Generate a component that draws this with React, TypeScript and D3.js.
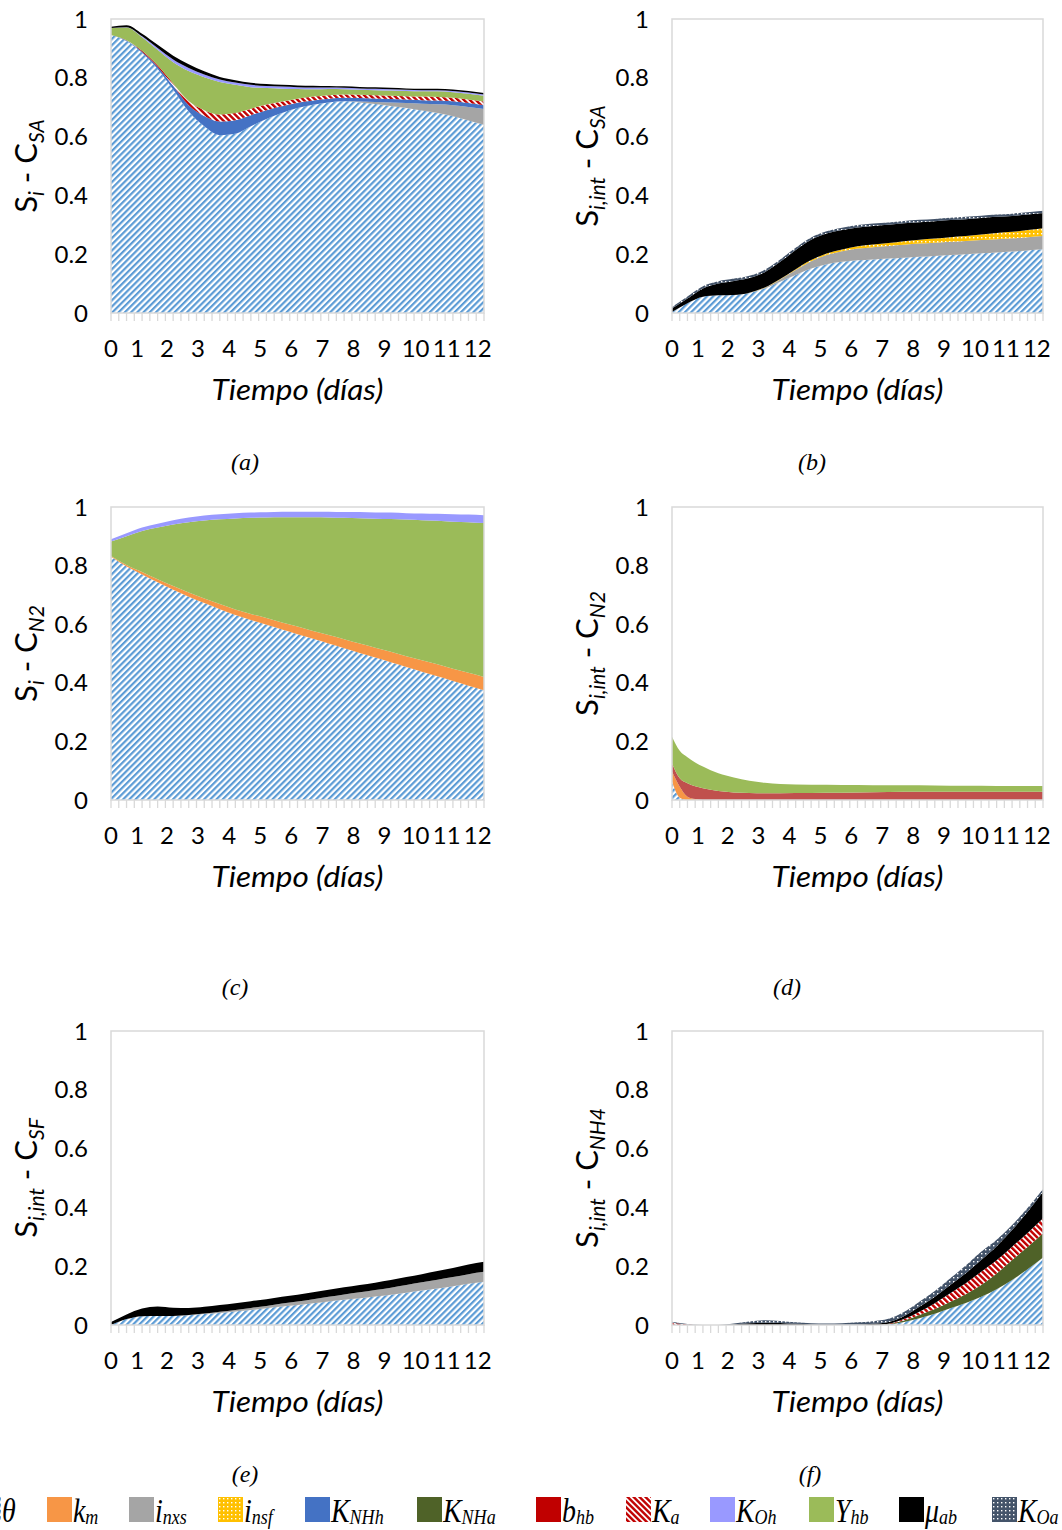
import React from 'react';
import * as d3 from 'd3';

// ---------- data ----------
const DAYS = [0, 0.5, 1, 1.5, 2, 2.5, 3, 3.5, 4, 4.5, 5, 5.5, 6, 6.5, 7, 7.5, 8, 8.5, 9, 9.5, 10, 10.5, 11, 11.5, 12];
const DAYS_D = [0, 0.25, 0.5, 0.75, 1, 1.5, 2, 2.5, 3, 4, 5, 6, 7, 8, 9, 10, 11, 12];

const X_TICK_LABELS = ['0', '1', '2', '3', '4', '5', '6', '7', '8', '9', '10', '11', '12'];
const X_TICK_POS = [0, 0.84, 1.8, 2.8, 3.8, 4.8, 5.8, 6.8, 7.8, 8.8, 9.8, 10.8, 11.8];
const Y_TICKS = [0, 0.2, 0.4, 0.6, 0.8, 1];

// panel (a) S_i - C_SA
const thetaA = [0.946, 0.925, 0.885, 0.83, 0.76, 0.685, 0.635, 0.605, 0.61, 0.635, 0.66, 0.68, 0.697, 0.708, 0.716, 0.72, 0.716, 0.711, 0.704, 0.697, 0.689, 0.68, 0.669, 0.655, 0.64];
const inxsA = [0, 0, 0, 0, 0, 0, 0, 0, 0, 0, 0, 0, 0, 0, 0, 0, 0.003, 0.007, 0.012, 0.017, 0.023, 0.03, 0.038, 0.046, 0.054];
const KNHhA = [0, 0.002, 0.004, 0.008, 0.013, 0.022, 0.035, 0.046, 0.046, 0.038, 0.03, 0.023, 0.018, 0.015, 0.013, 0.012, 0.012, 0.012, 0.012, 0.012, 0.012, 0.013, 0.013, 0.013, 0.013];
const KaA = [0, 0.001, 0.003, 0.005, 0.008, 0.014, 0.02, 0.024, 0.024, 0.022, 0.019, 0.016, 0.014, 0.013, 0.012, 0.011, 0.011, 0.011, 0.011, 0.011, 0.012, 0.012, 0.012, 0.012, 0.012];
const YhbA = [0.023, 0.043, 0.046, 0.052, 0.072, 0.102, 0.112, 0.111, 0.096, 0.073, 0.056, 0.044, 0.033, 0.025, 0.021, 0.018, 0.017, 0.017, 0.018, 0.018, 0.018, 0.019, 0.019, 0.02, 0.02];
const KOhA = [0, 0.001, 0.003, 0.006, 0.009, 0.01, 0.009, 0.008, 0.008, 0.008, 0.007, 0.007, 0.006, 0.006, 0.005, 0.005, 0.005, 0.005, 0.004, 0.004, 0.004, 0.004, 0.004, 0.004, 0.004];
const muA = [0.005, 0.007, 0.009, 0.011, 0.013, 0.013, 0.011, 0.009, 0.008, 0.007, 0.007, 0.006, 0.006, 0.006, 0.005, 0.005, 0.005, 0.005, 0.005, 0.005, 0.005, 0.005, 0.005, 0.005, 0.005];

// panel (b) S_i,int - C_SA
const thetaB = [0.003, 0.033, 0.055, 0.06, 0.061, 0.068, 0.083, 0.106, 0.129, 0.151, 0.166, 0.174, 0.179, 0.182, 0.185, 0.188, 0.191, 0.194, 0.197, 0.2, 0.203, 0.206, 0.209, 0.213, 0.217];
const inxsB = [0, 0, 0, 0, 0, 0.001, 0.003, 0.008, 0.017, 0.025, 0.031, 0.036, 0.04, 0.042, 0.043, 0.044, 0.045, 0.045, 0.045, 0.045, 0.045, 0.045, 0.045, 0.045, 0.045];
const insfB = [0, 0, 0, 0, 0, 0, 0.001, 0.002, 0.003, 0.004, 0.005, 0.006, 0.008, 0.009, 0.01, 0.012, 0.013, 0.014, 0.016, 0.017, 0.019, 0.021, 0.022, 0.024, 0.026];
const muB = [0.012, 0.016, 0.028, 0.04, 0.048, 0.05, 0.052, 0.058, 0.065, 0.069, 0.068, 0.066, 0.064, 0.063, 0.062, 0.061, 0.06, 0.059, 0.058, 0.057, 0.056, 0.055, 0.054, 0.053, 0.052];
const KOaB = [0.005, 0.007, 0.008, 0.008, 0.008, 0.008, 0.008, 0.008, 0.008, 0.008, 0.008, 0.008, 0.008, 0.008, 0.008, 0.008, 0.008, 0.008, 0.008, 0.008, 0.008, 0.008, 0.008, 0.008, 0.008];

// panel (c) S_i - C_N2
const thetaC = [0.83, 0.797, 0.77, 0.743, 0.718, 0.694, 0.672, 0.651, 0.631, 0.614, 0.598, 0.582, 0.566, 0.55, 0.534, 0.518, 0.502, 0.486, 0.47, 0.454, 0.438, 0.422, 0.406, 0.39, 0.375];
const kmC = [0.003, 0.005, 0.008, 0.01, 0.012, 0.014, 0.016, 0.018, 0.019, 0.021, 0.023, 0.024, 0.026, 0.027, 0.029, 0.031, 0.032, 0.034, 0.036, 0.037, 0.039, 0.041, 0.042, 0.044, 0.045];
const YhbC = [0.049, 0.098, 0.14, 0.177, 0.21, 0.24, 0.266, 0.289, 0.311, 0.328, 0.343, 0.359, 0.373, 0.388, 0.401, 0.414, 0.428, 0.44, 0.453, 0.466, 0.478, 0.49, 0.502, 0.514, 0.525];
const KOhC = [0.008, 0.01, 0.012, 0.013, 0.015, 0.016, 0.017, 0.017, 0.018, 0.018, 0.018, 0.019, 0.019, 0.019, 0.02, 0.02, 0.021, 0.021, 0.022, 0.022, 0.023, 0.024, 0.025, 0.026, 0.027];

// panel (d) S_i,int - C_N2 (own time grid)
const thetaD = [0.063, 0.008, 0, 0, 0, 0, 0, 0, 0, 0, 0, 0, 0, 0, 0, 0, 0, 0];
const kmD = [0.034, 0.037, 0.011, 0.003, 0, 0, 0, 0, 0, 0, 0, 0, 0, 0, 0, 0, 0, 0];
const bhbD = [0.028, 0.029, 0.046, 0.044, 0.04, 0.031, 0.026, 0.024, 0.023, 0.024, 0.025, 0.026, 0.027, 0.028, 0.028, 0.028, 0.028, 0.028];
const YhbD = [0.091, 0.094, 0.089, 0.081, 0.074, 0.06, 0.051, 0.042, 0.036, 0.029, 0.027, 0.025, 0.023, 0.022, 0.021, 0.021, 0.02, 0.02];

// panel (e) S_i,int - C_SF
const thetaE = [0, 0.02, 0.03, 0.031, 0.031, 0.033, 0.037, 0.041, 0.046, 0.051, 0.057, 0.063, 0.068, 0.074, 0.08, 0.086, 0.091, 0.097, 0.103, 0.11, 0.117, 0.124, 0.132, 0.14, 0.147];
const inxsE = [0, 0, 0, 0, 0, 0.001, 0.002, 0.004, 0.005, 0.007, 0.008, 0.01, 0.012, 0.014, 0.016, 0.018, 0.02, 0.022, 0.024, 0.026, 0.028, 0.03, 0.031, 0.033, 0.034];
const muE = [0.01, 0.016, 0.026, 0.032, 0.028, 0.024, 0.023, 0.023, 0.023, 0.023, 0.023, 0.023, 0.023, 0.023, 0.024, 0.024, 0.025, 0.025, 0.026, 0.027, 0.028, 0.03, 0.031, 0.033, 0.034];

// panel (f) S_i,int - C_NH4
const thetaF = [0, 0, 0, 0, 0, 0, 0, 0, 0, 0, 0, 0, 0, 0, 0.002, 0.01, 0.023, 0.038, 0.057, 0.075, 0.096, 0.122, 0.153, 0.19, 0.23];
const KNHaF = [0, 0, 0, 0, 0, 0, 0, 0, 0, 0, 0, 0, 0, 0, 0.001, 0.005, 0.011, 0.016, 0.022, 0.03, 0.04, 0.053, 0.068, 0.075, 0.082];
const KaF = [0.008, 0.002, 0, 0, 0, 0, 0, 0, 0, 0, 0, 0, 0, 0, 0.001, 0.005, 0.011, 0.02, 0.029, 0.037, 0.045, 0.045, 0.045, 0.048, 0.051];
const muF = [0, 0, 0, 0, 0.002, 0.006, 0.008, 0.007, 0.004, 0.002, 0.001, 0.001, 0.002, 0.004, 0.006, 0.01, 0.017, 0.022, 0.028, 0.034, 0.04, 0.048, 0.057, 0.072, 0.09];
const KOaF = [0.003, 0.001, 0, 0, 0.003, 0.006, 0.008, 0.007, 0.005, 0.004, 0.004, 0.005, 0.007, 0.009, 0.011, 0.014, 0.017, 0.02, 0.023, 0.026, 0.028, 0.022, 0.017, 0.013, 0.01];

const LEGEND = [
  { key: 'theta', main: 'θ', sub: '' },
  { key: 'km', main: 'k', sub: 'm' },
  { key: 'inxs', main: 'i', sub: 'nxs' },
  { key: 'insf', main: 'i', sub: 'nsf' },
  { key: 'KNHh', main: 'K', sub: 'NHh' },
  { key: 'KNHa', main: 'K', sub: 'NHa' },
  { key: 'bhb', main: 'b', sub: 'hb' },
  { key: 'Ka', main: 'K', sub: 'a' },
  { key: 'KOh', main: 'K', sub: 'Oh' },
  { key: 'Yhb', main: 'Y', sub: 'hb' },
  { key: 'mu', main: 'μ', sub: 'ab' },
  { key: 'KOa', main: 'K', sub: 'Oa' },
];

// ---------- styles / layout ----------
const FILL: Record<string, string> = {
  theta: 'url(#pHatch)',
  km: '#F79646',
  inxs: '#A5A5A5',
  insf: 'url(#pDotsY)',
  KNHh: '#4472C4',
  KNHa: '#4F6228',
  bhb: '#C00000',
  Ka: 'url(#pStripeR)',
  KOh: '#9999FF',
  Yhb: '#9BBB59',
  mu: '#000000',
  KOa: 'url(#pDotsS)',
};
const LEGEND_X = [-24, 47, 129, 218, 305, 417, 536, 626, 710, 809, 899, 992];

const TICK_FONT = 'Lato, "Open Sans", sans-serif';
const SERIF = '"Liberation Serif", "Times New Roman", serif';

type Series = { key: string; values: number[]; color?: string };
type TitlePart = [string, boolean];

function Panel(props: {
  id: string; left: number; top: number; width: number; height: number;
  days: number[]; series: Series[]; title: TitlePart[];
  caption: string; capX: number; capY: number;
}) {
  const { id, left, top, width, height, days, series, title, caption, capX, capY } = props;
  const x = d3.scaleLinear().domain([0, 12]).range([left, left + width]);
  const y = d3.scaleLinear().domain([0, 1]).range([top + height, top]);
  const keys = series.map((s) => s.key);
  const rows = days.map((d, i) => {
    const r: any = { day: d };
    series.forEach((s) => { r[s.key] = s.values[i]; });
    return r;
  });
  const stacked = d3.stack<any>().keys(keys)(rows);
  const area = d3.area<any>()
    .x((d) => x(d.data.day))
    .y0((d) => y(d[0]))
    .y1((d) => y(d[1]))
    .curve(d3.curveMonotoneX);
  const minor = d3.range(0, 12.0001, 0.25);
  const bottom = top + height;
  let prevSub = false;
  return (
    <g>
      <defs>
        <clipPath id={`clip-${id}`}>
          <rect x={left} y={top} width={width} height={height} />
        </clipPath>
      </defs>
      <g clipPath={`url(#clip-${id})`}>
        {stacked.map((layer, i) => (
          <path key={layer.key} d={area(layer as any) || ''}
            fill={series[i].color || FILL[layer.key]} stroke="none" />
        ))}
      </g>
      <rect x={left} y={top} width={width} height={height} fill="none" stroke="#D9D9D9" strokeWidth={1.5} />
      {minor.map((m, i) => (
        <line key={i} x1={x(m)} x2={x(m)} y1={bottom} y2={bottom + 8} stroke="#D9D9D9" strokeWidth={1.3} />
      ))}
      {Y_TICKS.map((t) => (
        <text key={t} x={left - 23} y={y(t)} dy="0.36em" textAnchor="end"
          fontFamily={TICK_FONT} fontSize={24} fill="#000">{String(t)}</text>
      ))}
      {X_TICK_LABELS.map((lab, i) => (
        <text key={lab} x={x(X_TICK_POS[i])} y={bottom + 44} textAnchor="middle"
          fontFamily={TICK_FONT} fontSize={24} fill="#000">{lab}</text>
      ))}
      <text x={left + width / 2} y={bottom + 87} textAnchor="middle" fontFamily={TICK_FONT}
        fontStyle="italic" fontSize={28} textLength={172} lengthAdjust="spacingAndGlyphs" fill="#000">Tiempo (días)</text>
      <text transform={`translate(${left - 74},${top + height / 2}) rotate(-90)`} textAnchor="middle"
        fontFamily={TICK_FONT} fontSize={31} fill="#000" style={{ whiteSpace: 'pre' }}>
        {title.map(([t, sub], i) => {
          const dy = sub ? (prevSub ? 0 : 7) : (prevSub ? -7 : 0);
          prevSub = sub;
          return (
            <tspan key={i} dy={dy} fontSize={sub ? 21 : 31} fontStyle={sub ? 'italic' : 'normal'}>{t}</tspan>
          );
        })}
      </text>
      <text x={capX} y={capY} textAnchor="middle" fontFamily={SERIF} fontStyle="italic" fontSize={24}>{caption}</text>
    </g>
  );
}

export default function App() {
  const H = 294;
  return (
    <svg width={1062} height={1530} style={{ position: 'absolute', left: 0, top: 0, background: '#fff' }}
      xmlns="http://www.w3.org/2000/svg">
      <defs>
        <pattern id="pHatch" patternUnits="userSpaceOnUse" width={4.4} height={4.4} patternTransform="rotate(45)">
          <rect width={4.4} height={4.4} fill="#fff" />
          <rect width={2.2} height={4.4} fill="#5B9BD5" />
        </pattern>
        <pattern id="pStripeR" patternUnits="userSpaceOnUse" width={4.2} height={4.2} patternTransform="rotate(-45)">
          <rect width={4.2} height={4.2} fill="#fff" />
          <rect width={2.4} height={4.2} fill="#C00000" />
        </pattern>
        <pattern id="pDotsY" patternUnits="userSpaceOnUse" width={4} height={4}>
          <rect width={4} height={4} fill="#FFC000" />
          <rect x={1} y={1} width={1.4} height={1.4} fill="#fff" />
        </pattern>
        <pattern id="pDotsS" patternUnits="userSpaceOnUse" width={4} height={4}>
          <rect width={4} height={4} fill="#44546A" />
          <rect x={1} y={1} width={1.4} height={1.4} fill="#fff" />
        </pattern>
      </defs>
      <rect x={0} y={0} width={1062} height={1530} fill="#fff" />

      <Panel id="a" left={111} top={19} width={373} height={H} days={DAYS}
        series={[
          { key: 'theta', values: thetaA }, { key: 'inxs', values: inxsA }, { key: 'KNHh', values: KNHhA },
          { key: 'Ka', values: KaA }, { key: 'Yhb', values: YhbA }, { key: 'KOh', values: KOhA }, { key: 'mu', values: muA },
        ]}
        title={[['S', false], ['i', true], [' - C', false], ['SA', true]]}
        caption="(a)" capX={245} capY={470} />
      <Panel id="b" left={672} top={19} width={371} height={H} days={DAYS}
        series={[
          { key: 'theta', values: thetaB }, { key: 'inxs', values: inxsB }, { key: 'insf', values: insfB },
          { key: 'mu', values: muB }, { key: 'KOa', values: KOaB },
        ]}
        title={[['S', false], ['i,int', true], [' - C', false], ['SA', true]]}
        caption="(b)" capX={812} capY={470} />
      <Panel id="c" left={111} top={507} width={373} height={293} days={DAYS}
        series={[
          { key: 'theta', values: thetaC }, { key: 'km', values: kmC }, { key: 'Yhb', values: YhbC }, { key: 'KOh', values: KOhC },
        ]}
        title={[['S', false], ['i', true], [' - C', false], ['N2', true]]}
        caption="(c)" capX={235} capY={995} />
      <Panel id="d" left={672} top={507} width={371} height={293} days={DAYS_D}
        series={[
          { key: 'theta', values: thetaD }, { key: 'km', values: kmD }, { key: 'bhb', values: bhbD, color: '#C0504D' },
          { key: 'Yhb', values: YhbD },
        ]}
        title={[['S', false], ['i,int', true], [' - C', false], ['N2', true]]}
        caption="(d)" capX={787} capY={995} />
      <Panel id="e" left={111} top={1031} width={373} height={H} days={DAYS}
        series={[
          { key: 'theta', values: thetaE }, { key: 'inxs', values: inxsE }, { key: 'mu', values: muE },
        ]}
        title={[['S', false], ['i,int', true], [' - C', false], ['SF', true]]}
        caption="(e)" capX={245} capY={1482} />
      <Panel id="f" left={672} top={1031} width={371} height={H} days={DAYS}
        series={[
          { key: 'theta', values: thetaF }, { key: 'KNHa', values: KNHaF }, { key: 'Ka', values: KaF },
          { key: 'mu', values: muF }, { key: 'KOa', values: KOaF },
        ]}
        title={[['S', false], ['i,int', true], [' - C', false], ['NH4', true]]}
        caption="(f)" capX={810} capY={1482} />

      {LEGEND.map((l, i) => (
        <g key={l.key} transform={`translate(${LEGEND_X[i]},1497)`}>
          <rect width={25} height={25} fill={FILL[l.key]} />
          <g transform="translate(26,25) scale(0.82,1)">
            <text fontFamily={SERIF} fontStyle="italic" fontSize={34} fill="#000">
              {l.main}
              {l.sub ? <tspan fontSize={22} dy={2}>{l.sub}</tspan> : null}
            </text>
          </g>
        </g>
      ))}
    </svg>
  );
}
